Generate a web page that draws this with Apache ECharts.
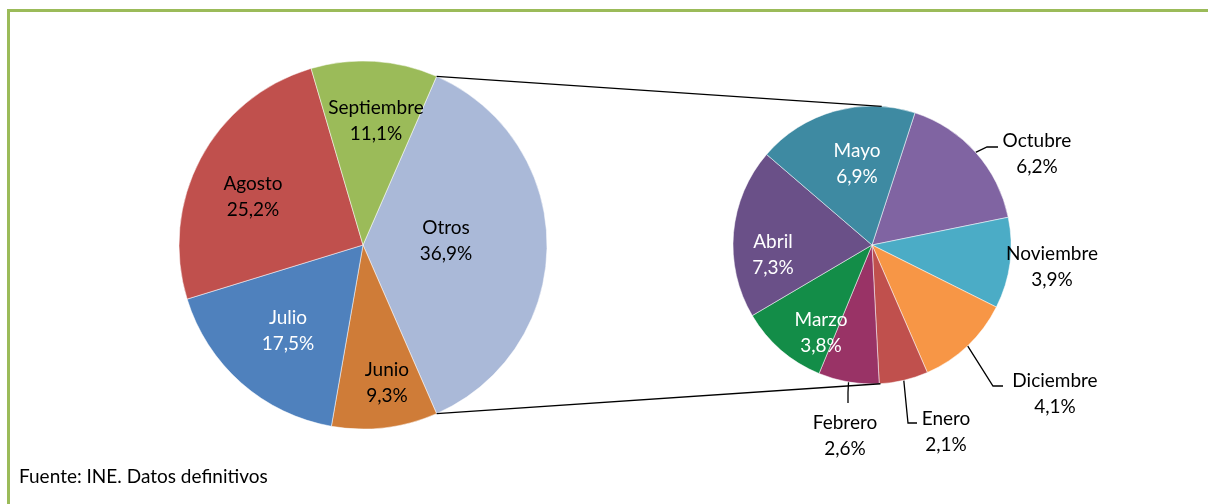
<!DOCTYPE html>
<html><head><meta charset="utf-8">
<script src="https://cdn.jsdelivr.net/npm/echarts@6/dist/echarts.min.js"></script>
<style>html,body{margin:0;padding:0;background:#fff}#c{width:1208px;height:504px}</style>
</head><body><div id="c"></div>
<script>
// ---- data ----
const mainCategories = ['Otros', 'Junio', 'Julio', 'Agosto', 'Septiembre'];
const mainValues = [36.9, 9.3, 17.5, 25.2, 11.1];
const otherCategories = ['Octubre', 'Noviembre', 'Diciembre', 'Enero', 'Febrero', 'Marzo', 'Abril', 'Mayo'];
const otherValues = [6.2, 3.9, 4.1, 2.1, 2.6, 3.8, 7.3, 6.9];
const sourceText = 'Fuente: INE. Datos definitivos';

// ---- styles / layout ----
const mainColors = ['#AAB9D8', '#CF7C38', '#4F81BD', '#C0504D', '#9BBB59'];
const otherColors = ['#8064A2', '#4BACC6', '#F79646', '#C0504D', '#993366', '#138D48', '#6A5088', '#3E8AA2'];
const mainLabelColors = ['#000', '#000', '#fff', '#000', '#000'];
const otherLabelColors = ['#000', '#000', '#000', '#000', '#000', '#fff', '#fff', '#fff'];
const mainLabelPos = [[446, 241], [387, 383], [288, 331], [253, 197], [376, 121]];
const otherLabelPos = [[1037, 154], [1052, 267], [1055, 394], [946, 432], [845, 436], [821, 333], [773, 255], [857, 164]];
// leader elbows (layout only): [[elbowX, elbowY], [endX, endY]] or null
const otherLeaderPts = [[[987, 147], [998, 147]], null, [[993, 386], [1003, 386]], [[908, 423], [917, 423]], [[848, 392], [848, 403]], null, null, null];
const L = { cx: 363, cy: 245, r: 184 };
const R = { cx: 872, cy: 245, r: 139, startFromTop: 18, connTop: 4, connBottom: 3.5 };
const FONT = 'Lato';

const fmt = v => v.toFixed(1).replace('.', ',') + '%';
const mainTotal = mainValues.reduce((a, b) => a + b, 0);
const otherTotal = otherValues.reduce((a, b) => a + b, 0);
const otrosAngle = mainValues[0] / mainTotal * 360;
const mainStart = otrosAngle / 2;           // "Otros" centred on 3 o'clock
const rightStart = 90 - R.startFromTop;

const rad = d => d * Math.PI / 180;
const pt = (c, ang) => [c.cx + c.r * Math.cos(rad(ang)), c.cy - c.r * Math.sin(rad(ang))];

// mid-angle edge point of each right-pie slice (through the pie's own geometry)
const otherMidEdge = (() => {
  let a = rightStart; const out = [];
  otherValues.forEach(v => { const span = v / otherTotal * 360; out.push(pt(R, a - span / 2)); a -= span; });
  return out;
})();

const mainData = mainCategories.map((n, i) => ({
  name: n, value: mainValues[i],
  itemStyle: { color: mainColors[i] },
  label: { color: mainLabelColors[i] }
}));
const otherData = otherCategories.map((n, i) => ({
  name: n, value: otherValues[i],
  itemStyle: { color: otherColors[i] },
  label: { color: otherLabelColors[i], position: (otherLeaderPts[i] || i === 1) ? 'outside' : 'inside' },
  labelLine: { show: !!otherLeaderPts[i] }
}));

const lTop = pt(L, mainStart), lBot = pt(L, mainStart - otrosAngle);
const rTop = pt(R, 90 - R.connTop), rBot = pt(R, -90 + R.connBottom);

const labelBase = {
  fontFamily: FONT, fontSize: 19, lineHeight: 26,
  formatter: p => p.name + '\n' + fmt(p.value)
};

const chart = echarts.init(document.getElementById('c'), null, { renderer: 'canvas' });
chart.setOption({
  animation: false,
  graphic: [
    { type: 'rect', z: -10, shape: { x: 8.5, y: 10.5, width: 1210, height: 520 },
      style: { fill: 'none', stroke: '#9BBB59', lineWidth: 3 } },
    { type: 'line', z: 10, shape: { x1: lTop[0], y1: lTop[1], x2: rTop[0], y2: rTop[1] },
      style: { stroke: '#000', lineWidth: 1.3 } },
    { type: 'line', z: 10, shape: { x1: lBot[0], y1: lBot[1], x2: rBot[0], y2: rBot[1] },
      style: { stroke: '#000', lineWidth: 1.3 } },
    { type: 'text', left: 19, top: 467, style: { text: sourceText, fontFamily: FONT, fontSize: 19, fill: '#000' } }
  ],
  series: [
    {
      type: 'pie', center: [L.cx, L.cy], radius: [0, L.r],
      startAngle: mainStart, clockwise: true,
      data: mainData,
      itemStyle: { borderColor: '#fff', borderWidth: 0.5 },
      label: Object.assign({ position: 'inside' }, labelBase),
      labelLine: { show: false },
      labelLayout: p => ({ x: mainLabelPos[p.dataIndex][0], y: mainLabelPos[p.dataIndex][1], align: 'center', verticalAlign: 'middle' }),
      emphasis: { disabled: true }
    },
    {
      type: 'pie', center: [R.cx, R.cy], radius: [0, R.r],
      startAngle: rightStart, clockwise: true,
      data: otherData,
      itemStyle: { borderColor: '#fff', borderWidth: 0.5 },
      label: labelBase,
      labelLine: { lineStyle: { color: '#000', width: 1.3 }, length: 12, length2: 10 },
      labelLayout: p => {
        const i = p.dataIndex;
        const o = { x: otherLabelPos[i][0], y: otherLabelPos[i][1], align: 'center', verticalAlign: 'middle' };
        if (otherLeaderPts[i]) o.labelLinePoints = [otherMidEdge[i], otherLeaderPts[i][0], otherLeaderPts[i][1]];
        return o;
      },
      emphasis: { disabled: true }
    }
  ]
});
</script>
</body></html>
